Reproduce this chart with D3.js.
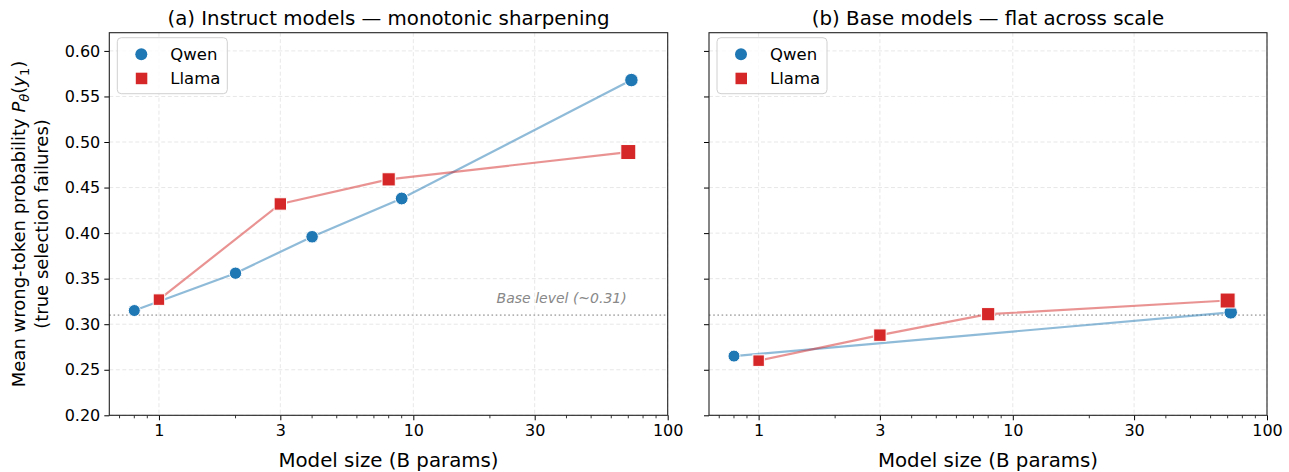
<!DOCTYPE html>
<html>
<head>
<meta charset="utf-8">
<script src="https://cdn.jsdelivr.net/npm/d3@7"></script>
<style>
  body { margin: 0; background: #fff; }
  svg { font-family: "DejaVu Sans", sans-serif; }
</style>
</head>
<body>
<svg id="chart" width="1289" height="472"></svg>
<script>

// model sizes (B params) and mean wrong-token probability
var qwenInstructSize = [0.8, 2, 4, 9, 72];
var qwenInstructP = [0.315, 0.356, 0.396, 0.438, 0.568];
var llamaInstructSize = [1, 3, 8, 70];
var llamaInstructP = [0.327, 0.432, 0.459, 0.489];

var qwenBaseSize = [0.8, 72];
var qwenBaseP = [0.265, 0.313];
var llamaBaseSize = [1, 3, 8, 70];
var llamaBaseP = [0.260, 0.288, 0.311, 0.326];

var xTicks = [1, 3, 10, 30, 100];
var yTicks = [0.20, 0.25, 0.30, 0.35, 0.40, 0.45, 0.50, 0.55, 0.60];
var baseLevel = 0.31;
var titles = ["(a) Instruct models \u2014 monotonic sharpening", "(b) Base models \u2014 flat across scale"];

var qwenBlue = "#1f77b4", llamaRed = "#d62728";

var svg = d3.select("#chart");
var plotTop = 32.7, plotBottom = 415.3;
var panels = [
  {left: 109.3, right: 667.7, title: titles[0], showY: true,
   qwen: d3.zip(qwenInstructSize, qwenInstructP), llama: d3.zip(llamaInstructSize, llamaInstructP)},
  {left: 709, right: 1267, title: titles[1], showY: false,
   qwen: d3.zip(qwenBaseSize, qwenBaseP), llama: d3.zip(llamaBaseSize, llamaBaseP)}
];

var y = d3.scaleLinear().domain([0.20, 0.62]).range([plotBottom, plotTop]);
var sqSize = d3.scaleLog().domain([1, 70]).range([11.5, 15]);
var circSize = d3.scaleLog().domain([0.8, 72]).range([12, 13.5]);

var minorTicks = [0.7, 0.8, 0.9, 2, 4, 5, 6, 7, 8, 9, 20, 40, 50, 60, 70, 80, 90];

panels.forEach(function(p, idx){
  var x = d3.scaleLog().domain([0.638, 100]).range([p.left, p.right]);
  var g = svg.append("g");

  // grid
  g.selectAll(".gx").data(xTicks).enter().append("line")
    .attr("x1", function(d){ return x(d); }).attr("x2", function(d){ return x(d); })
    .attr("y1", plotTop).attr("y2", plotBottom)
    .attr("stroke", "#e4e4e4").attr("stroke-width", 0.9).attr("stroke-dasharray", "4,2.5");
  g.selectAll(".gy").data(yTicks).enter().append("line")
    .attr("x1", p.left).attr("x2", p.right)
    .attr("y1", function(d){ return y(d); }).attr("y2", function(d){ return y(d); })
    .attr("stroke", "#e4e4e4").attr("stroke-width", 0.9).attr("stroke-dasharray", "4,2.5");

  // base level reference
  g.append("line")
    .attr("x1", p.left).attr("x2", p.right)
    .attr("y1", y(baseLevel)).attr("y2", y(baseLevel))
    .attr("stroke", "#b3b3b3").attr("stroke-width", 1.6).attr("stroke-dasharray", "1.6,2.6");
  if (idx === 0) {
    g.append("text")
      .attr("x", x(69)).attr("y", y(baseLevel) - 12)
      .attr("text-anchor", "end")
      .attr("font-size", 14).attr("font-style", "italic").attr("fill", "#888")
      .text("Base level (~0.31)");
  }

  var line = d3.line().x(function(d){ return x(d[0]); }).y(function(d){ return y(d[1]); });

  // Qwen
  g.append("path").datum(p.qwen).attr("d", line)
    .attr("fill", "none").attr("stroke", qwenBlue).attr("stroke-opacity", 0.5).attr("stroke-width", 2.2);
  g.selectAll(".qw").data(p.qwen).enter().append("circle")
    .attr("cx", function(d){ return x(d[0]); }).attr("cy", function(d){ return y(d[1]); })
    .attr("r", function(d){ return circSize(d[0]) / 2; })
    .attr("fill", qwenBlue).attr("stroke", "#fff").attr("stroke-width", 1);

  // Llama
  g.append("path").datum(p.llama).attr("d", line)
    .attr("fill", "none").attr("stroke", llamaRed).attr("stroke-opacity", 0.5).attr("stroke-width", 2.2);
  g.selectAll(".ll").data(p.llama).enter().append("rect")
    .attr("x", function(d){ return x(d[0]) - sqSize(d[0]) / 2; })
    .attr("y", function(d){ return y(d[1]) - sqSize(d[0]) / 2; })
    .attr("width", function(d){ return sqSize(d[0]); })
    .attr("height", function(d){ return sqSize(d[0]); })
    .attr("fill", llamaRed).attr("stroke", "#fff").attr("stroke-width", 1);

  // axes
  var xAxis = g.append("g").attr("transform", "translate(0," + plotBottom + ")")
    .call(d3.axisBottom(x).tickValues(xTicks).tickFormat(d3.format("d")).tickSize(5).tickPadding(4));
  xAxis.selectAll("text").attr("font-size", 16).attr("fill", "#000").attr("font-family", "DejaVu Sans");
  xAxis.select(".domain").remove();
  g.append("g").selectAll("line").data(minorTicks).enter().append("line")
    .attr("x1", function(d){ return x(d); }).attr("x2", function(d){ return x(d); })
    .attr("y1", plotBottom).attr("y2", plotBottom + 3)
    .attr("stroke", "#000").attr("stroke-width", 0.8);

  var yAxis = g.append("g").attr("transform", "translate(" + p.left + ",0)")
    .call(d3.axisLeft(y).tickValues(yTicks).tickFormat(p.showY ? d3.format(".2f") : "").tickSize(5).tickPadding(4));
  yAxis.selectAll("text").attr("font-size", 16).attr("fill", "#000").attr("font-family", "DejaVu Sans");
  yAxis.select(".domain").remove();

  // frame
  g.append("rect").attr("x", p.left).attr("y", plotTop)
    .attr("width", p.right - p.left).attr("height", plotBottom - plotTop)
    .attr("fill", "none").attr("stroke", "#222").attr("stroke-width", 1.1);

  // titles
  g.append("text").attr("x", (p.left + p.right) / 2).attr("y", 24.5)
    .attr("text-anchor", "middle").attr("font-size", 19.8).text(p.title);
  g.append("text").attr("x", (p.left + p.right) / 2).attr("y", 467)
    .attr("text-anchor", "middle").attr("font-size", 19.8).text("Model size (B params)");

  // legend
  var lg = g.append("g").attr("transform", "translate(" + (p.left + 8) + "," + (plotTop + 5) + ")");
  lg.append("rect").attr("width", 110).attr("height", 56).attr("rx", 4)
    .attr("fill", "#fff").attr("fill-opacity", 0.8).attr("stroke", "#d0d0d0").attr("stroke-width", 1);
  lg.append("circle").attr("cx", 24).attr("cy", 16.5).attr("r", 6).attr("fill", qwenBlue);
  lg.append("text").attr("x", 53).attr("y", 22.5).attr("font-size", 16.5).text("Qwen");
  lg.append("rect").attr("x", 18.5).attr("y", 35).attr("width", 11.5).attr("height", 11.5).attr("fill", llamaRed);
  lg.append("text").attr("x", 53).attr("y", 46.5).attr("font-size", 16.5).text("Llama");
});

// y label (two lines)
var yl = svg.append("text").attr("transform", "translate(25," + ((plotTop + plotBottom) / 2) + ") rotate(-90)")
  .attr("text-anchor", "middle").attr("font-size", 18);
yl.append("tspan").text("Mean wrong-token probability ");
yl.append("tspan").attr("font-style", "italic").text("P");
yl.append("tspan").attr("font-style", "italic").attr("font-size", 13).attr("dy", 4).text("\u03b8");
yl.append("tspan").attr("dy", -4).text("(");
yl.append("tspan").attr("font-style", "italic").text("y");
yl.append("tspan").attr("font-size", 13).attr("dy", 4).text("1");
yl.append("tspan").attr("dy", -4).text(")");
svg.append("text").attr("transform", "translate(48," + ((plotTop + plotBottom) / 2) + ") rotate(-90)")
  .attr("text-anchor", "middle").attr("font-size", 18).text("(true selection failures)");

</script>
</body>
</html>
